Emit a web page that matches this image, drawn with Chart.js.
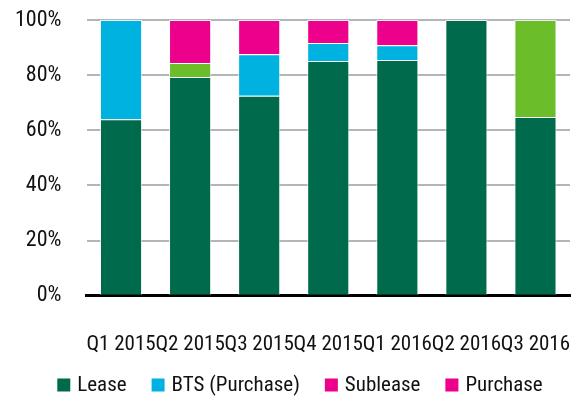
<!DOCTYPE html>
<html>
<head>
<meta charset="utf-8">
<script src="https://cdn.jsdelivr.net/npm/chart.js@4"></script>
<style>
  html, body { margin: 0; padding: 0; background: #fff; }
  #wrap { width: 584px; height: 412px; }
</style>
</head>
<body>
<div id="wrap"><canvas id="chart" width="584" height="412"></canvas></div>
<script>
// quarters
const categories = ['Q1 2015', 'Q2 2015', 'Q3 2015', 'Q4 2015', 'Q1 2016', 'Q2 2016', 'Q3 2016'];
// share of transactions, in percent
const lease    = [64.0, 79.3, 72.5, 85.1, 85.5, 100, 64.8];
const purchase = [0, 5.1, 0, 0, 0, 0, 35.2];
const bts      = [36.0, 0, 15.1, 6.6, 5.3, 0, 0];
const sublease = [0, 15.6, 12.4, 8.3, 9.2, 0, 0];
const yTicks = [0, 20, 40, 60, 80, 100];

const font = "'Roboto Condensed'";

// legend order as printed (Purchase swatch is magenta in the original)
const legendItems = [
  { text: 'Lease', color: '#006a4d' },
  { text: 'BTS (Purchase)', color: '#00b2e0' },
  { text: 'Sublease', color: '#ec008c' },
  { text: 'Purchase', color: '#ec008c' }
];

function ds(label, data, color) {
  return {
    label: label,
    data: data,
    backgroundColor: color,
    borderColor: 'rgba(255,255,255,0.75)',
    borderWidth: 1,
    categoryPercentage: 1,
    barPercentage: 0.61
  };
}

// one-row legend under the axis labels
const bottomLegend = {
  id: 'bottomLegend',
  afterDraw: function(chart) {
    const c = chart.ctx;
    const box = 13, gap = 7, spacing = 25;
    c.save();
    c.font = '21px ' + font;
    c.textBaseline = 'middle';
    let total = 0;
    legendItems.forEach(function(it, i) {
      it.w = c.measureText(it.text).width;
      total += box + gap + it.w + (i ? spacing : 0);
    });
    let x = chart.width / 2 + 8 - total / 2;
    const y = 385;
    legendItems.forEach(function(it) {
      c.fillStyle = it.color;
      c.fillRect(x, y - box / 2, box, box);
      c.fillStyle = '#111';
      c.fillText(it.text, x + box + gap, y + 1);
      x += box + gap + it.w + spacing;
    });
    c.restore();
  }
};

const ctx = document.getElementById('chart').getContext('2d');
new Chart(ctx, {
  type: 'bar',
  data: {
    labels: categories,
    datasets: [
      ds('Lease', lease, '#006a4d'),
      ds('Purchase', purchase, '#6cbd2a'),
      ds('BTS (Purchase)', bts, '#00b2e0'),
      ds('Sublease', sublease, '#ec008c')
    ]
  },
  plugins: [bottomLegend],
  options: {
    responsive: false,
    animation: false,
    layout: { padding: { left: 12, right: 14, top: 20, bottom: 51 } },
    plugins: {
      tooltip: { enabled: false },
      legend: { display: false }
    },
    scales: {
      x: {
        stacked: true,
        grid: { display: false, drawTicks: true, tickLength: 32 },
        border: { color: '#000', width: 3 },
        ticks: {
          font: { family: font, size: 21 },
          color: '#111',
          maxRotation: 0,
          autoSkip: false,
          padding: 4
        }
      },
      y: {
        stacked: true,
        min: 0,
        max: 100,
        afterBuildTicks: function(axis) {
          axis.ticks = yTicks.map(function(v) { return { value: v }; });
        },
        grid: { color: '#b3b6b9', lineWidth: 2, drawTicks: true, tickLength: 22, tickColor: 'rgba(0,0,0,0)' },
        border: { display: false },
        ticks: {
          font: { family: font, size: 22 },
          color: '#111',
          padding: 3,
          callback: function(v) { return v + '%'; }
        }
      }
    }
  }
});
</script>
</body>
</html>
